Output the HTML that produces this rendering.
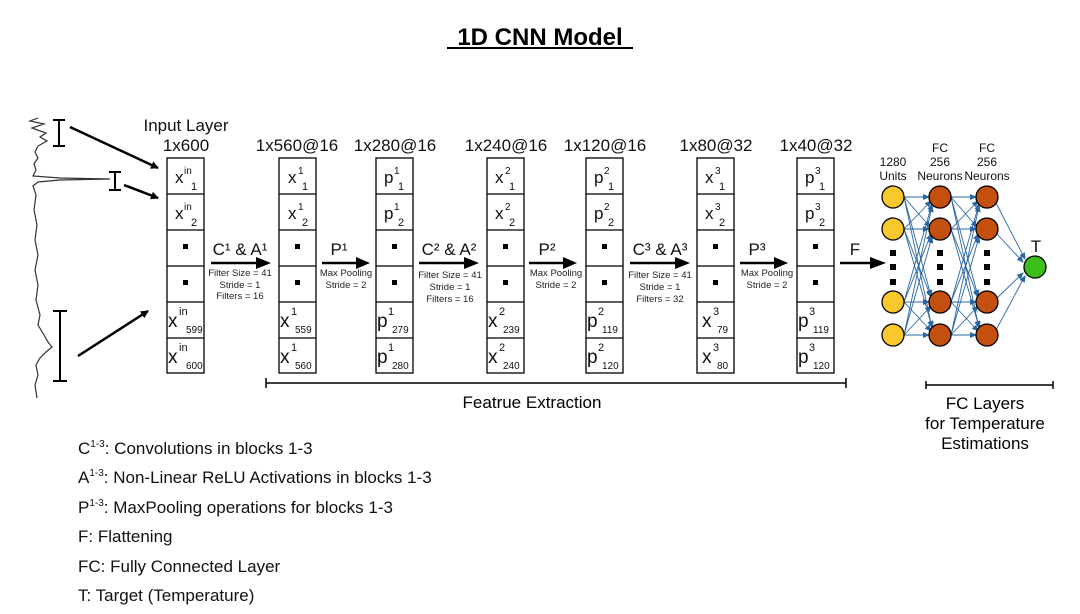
<!DOCTYPE html>
<html><head><meta charset="utf-8"><style>
html,body{margin:0;padding:0;background:#fff}
svg{display:block;font-family:"Liberation Sans",sans-serif}
</style></head><body>
<svg width="1080" height="614" viewBox="0 0 1080 614" xmlns="http://www.w3.org/2000/svg">
<defs>
<marker id="ah" markerWidth="8" markerHeight="8" refX="7" refY="4" orient="auto" markerUnits="userSpaceOnUse"><path d="M0,0 L8,4 L0,8 z" fill="#000"/></marker>
<marker id="bh" markerWidth="7" markerHeight="6" refX="6" refY="3" orient="auto" markerUnits="userSpaceOnUse"><path d="M0,0 L7,3 L0,6 z" fill="#2a66a3"/></marker>
</defs>
<rect width="1080" height="614" fill="#fff"/>
<text x="540" y="45" font-size="24" font-weight="bold" text-anchor="middle">1D CNN Model</text>
<line x1="447" y1="48" x2="633" y2="48" stroke="#000" stroke-width="2"/>

<!-- spectrum -->
<path d="M38,118 L30,121 L44,124 L32,128 L46,133 L40,137 L47,141 L38,146 L35,152 L38,158 L34,164 L36,170 L33,176 L60,178 L110,179 L60,180 L38,182 L33,186 L36,195 L34,210 L37,225 L35,240 L38,255 L35,270 L38,285 L36,300 L40,315 L38,325 L44,335 L48,342 L52,347 L46,352 L40,358 L36,365 L38,375 L35,385 L37,398" fill="none" stroke="#333" stroke-width="1.2"/>
<!-- brackets -->
<g stroke="#000" stroke-width="2">
<line x1="59" y1="120" x2="59" y2="146"/><line x1="53" y1="120" x2="65" y2="120"/><line x1="53" y1="146" x2="65" y2="146"/>
<line x1="115" y1="172" x2="115" y2="190"/><line x1="109" y1="172" x2="121" y2="172"/><line x1="109" y1="190" x2="121" y2="190"/>
<line x1="60" y1="311" x2="60" y2="381"/><line x1="53" y1="311" x2="67" y2="311"/><line x1="53" y1="381" x2="67" y2="381"/>
</g>
<g stroke="#000" stroke-width="2.5" marker-end="url(#ah)">
<line x1="70" y1="127" x2="158" y2="168"/>
<line x1="124" y1="185" x2="158" y2="198"/>
<line x1="78" y1="356" x2="148" y2="311"/>
</g>

<!-- headers -->
<g font-size="17" text-anchor="middle" fill="#111">
<text x="186" y="131">Input Layer</text>
<text x="186" y="151">1x600</text>
<text x="297" y="151">1x560@16</text>
<text x="395" y="151">1x280@16</text>
<text x="506" y="151">1x240@16</text>
<text x="605" y="151">1x120@16</text>
<text x="716" y="151">1x80@32</text>
<text x="816" y="151">1x40@32</text>
</g>

<!-- columns -->
<g fill="none" stroke="#000" stroke-width="1.3">
<rect x="167" y="158" width="37" height="215"/><rect x="279" y="158" width="37" height="215"/><rect x="376" y="158" width="37" height="215"/><rect x="487" y="158" width="37" height="215"/><rect x="586" y="158" width="37" height="215"/><rect x="697" y="158" width="37" height="215"/><rect x="797" y="158" width="37" height="215"/>
<path d="M167,194h37M167,230h37M167,266h37M167,302h37M167,338h37
M279,194h37M279,230h37M279,266h37M279,302h37M279,338h37
M376,194h37M376,230h37M376,266h37M376,302h37M376,338h37
M487,194h37M487,230h37M487,266h37M487,302h37M487,338h37
M586,194h37M586,230h37M586,266h37M586,302h37M586,338h37
M697,194h37M697,230h37M697,266h37M697,302h37M697,338h37
M797,194h37M797,230h37M797,266h37M797,302h37M797,338h37"/>
</g>
<g fill="#000">
<rect x="183" y="244" width="5" height="5"/><rect x="183" y="280" width="5" height="5"/>
<rect x="295" y="244" width="5" height="5"/><rect x="295" y="280" width="5" height="5"/>
<rect x="392" y="244" width="5" height="5"/><rect x="392" y="280" width="5" height="5"/>
<rect x="503" y="244" width="5" height="5"/><rect x="503" y="280" width="5" height="5"/>
<rect x="602" y="244" width="5" height="5"/><rect x="602" y="280" width="5" height="5"/>
<rect x="713" y="244" width="5" height="5"/><rect x="713" y="280" width="5" height="5"/>
<rect x="813" y="244" width="5" height="5"/><rect x="813" y="280" width="5" height="5"/>
</g>
<g fill="#111">
<text x="175" y="183" font-size="17">x</text><text x="184" y="174" font-size="10">in</text><text x="191" y="190" font-size="11">1</text>
<text x="175" y="219" font-size="17">x</text><text x="184" y="210" font-size="10">in</text><text x="191" y="226" font-size="11">2</text>
<text x="168" y="327" font-size="19">x</text><text x="179" y="315" font-size="11">in</text><text x="186" y="333" font-size="10">599</text>
<text x="168" y="363" font-size="19">x</text><text x="179" y="351" font-size="11">in</text><text x="186" y="369" font-size="10">600</text>
<text x="288" y="183" font-size="17">x</text><text x="298" y="174" font-size="10">1</text><text x="302" y="190" font-size="11">1</text>
<text x="288" y="219" font-size="17">x</text><text x="298" y="210" font-size="10">1</text><text x="302" y="226" font-size="11">2</text>
<text x="280" y="327" font-size="19">x</text><text x="291" y="315" font-size="11">1</text><text x="295" y="333" font-size="10">559</text>
<text x="280" y="363" font-size="19">x</text><text x="291" y="351" font-size="11">1</text><text x="295" y="369" font-size="10">560</text>
<text x="384" y="183" font-size="17">p</text><text x="394" y="174" font-size="10">1</text><text x="398" y="190" font-size="11">1</text>
<text x="384" y="219" font-size="17">p</text><text x="394" y="210" font-size="10">1</text><text x="398" y="226" font-size="11">2</text>
<text x="377" y="327" font-size="19">p</text><text x="388" y="315" font-size="11">1</text><text x="392" y="333" font-size="10">279</text>
<text x="377" y="363" font-size="19">p</text><text x="388" y="351" font-size="11">1</text><text x="392" y="369" font-size="10">280</text>
<text x="495" y="183" font-size="17">x</text><text x="505" y="174" font-size="10">2</text><text x="509" y="190" font-size="11">1</text>
<text x="495" y="219" font-size="17">x</text><text x="505" y="210" font-size="10">2</text><text x="509" y="226" font-size="11">2</text>
<text x="488" y="327" font-size="19">x</text><text x="499" y="315" font-size="11">2</text><text x="503" y="333" font-size="10">239</text>
<text x="488" y="363" font-size="19">x</text><text x="499" y="351" font-size="11">2</text><text x="503" y="369" font-size="10">240</text>
<text x="594" y="183" font-size="17">p</text><text x="604" y="174" font-size="10">2</text><text x="608" y="190" font-size="11">1</text>
<text x="594" y="219" font-size="17">p</text><text x="604" y="210" font-size="10">2</text><text x="608" y="226" font-size="11">2</text>
<text x="587" y="327" font-size="19">p</text><text x="598" y="315" font-size="11">2</text><text x="602" y="333" font-size="10">119</text>
<text x="587" y="363" font-size="19">p</text><text x="598" y="351" font-size="11">2</text><text x="602" y="369" font-size="10">120</text>
<text x="705" y="183" font-size="17">x</text><text x="715" y="174" font-size="10">3</text><text x="719" y="190" font-size="11">1</text>
<text x="705" y="219" font-size="17">x</text><text x="715" y="210" font-size="10">3</text><text x="719" y="226" font-size="11">2</text>
<text x="702" y="327" font-size="19">x</text><text x="713" y="315" font-size="11">3</text><text x="717" y="333" font-size="10">79</text>
<text x="702" y="363" font-size="19">x</text><text x="713" y="351" font-size="11">3</text><text x="717" y="369" font-size="10">80</text>
<text x="805" y="183" font-size="17">p</text><text x="815" y="174" font-size="10">3</text><text x="819" y="190" font-size="11">1</text>
<text x="805" y="219" font-size="17">p</text><text x="815" y="210" font-size="10">3</text><text x="819" y="226" font-size="11">2</text>
<text x="798" y="327" font-size="19">p</text><text x="809" y="315" font-size="11">3</text><text x="813" y="333" font-size="10">119</text>
<text x="798" y="363" font-size="19">p</text><text x="809" y="351" font-size="11">3</text><text x="813" y="369" font-size="10">120</text>
</g>

<g stroke="#000" stroke-width="2.5">
<line x1="211" y1="263" x2="258" y2="263"/><line x1="322" y1="263" x2="358" y2="263"/>
<line x1="419" y1="263" x2="466" y2="263"/><line x1="529" y1="263" x2="565" y2="263"/>
<line x1="630" y1="263" x2="677" y2="263"/><line x1="740" y1="263" x2="776" y2="263"/>
<line x1="840" y1="263" x2="872" y2="263"/>
</g>
<g fill="#000">
<path d="M256,257 L271,263 L256,269z"/><path d="M356,257 L370,263 L356,269z"/>
<path d="M464,257 L479,263 L464,269z"/><path d="M563,257 L577,263 L563,269z"/>
<path d="M675,257 L690,263 L675,269z"/><path d="M774,257 L788,263 L774,269z"/>
<path d="M870,257 L886,263 L870,269z"/>
</g>
<g font-size="17" text-anchor="middle" fill="#111">
<text x="240" y="255">C¹ &amp; A¹</text>
<text x="339" y="255">P¹</text>
<text x="449" y="255">C² &amp; A²</text>
<text x="547" y="255">P²</text>
<text x="660" y="255">C³ &amp; A³</text>
<text x="757" y="255">P³</text>
<text x="855" y="255">F</text>
</g>
<g font-size="9.5" text-anchor="middle" fill="#222">
<text x="240" y="276">Filter Size = 41</text><text x="240" y="288">Stride = 1</text><text x="240" y="299">Filters = 16</text>
<text x="346" y="276">Max Pooling</text><text x="346" y="288">Stride = 2</text>
<text x="450" y="278">Filter Size = 41</text><text x="450" y="290">Stride = 1</text><text x="450" y="302">Filters = 16</text>
<text x="556" y="276">Max Pooling</text><text x="556" y="288">Stride = 2</text>
<text x="660" y="278">Filter Size = 41</text><text x="660" y="290">Stride = 1</text><text x="660" y="302">Filters = 32</text>
<text x="767" y="276">Max Pooling</text><text x="767" y="288">Stride = 2</text>
</g>

<g stroke="#000" stroke-width="1.5">
<line x1="266" y1="383" x2="846" y2="383"/><line x1="266" y1="378" x2="266" y2="388"/><line x1="846" y1="378" x2="846" y2="388"/>
<line x1="926" y1="385" x2="1053" y2="385"/><line x1="926" y1="381" x2="926" y2="389"/><line x1="1053" y1="381" x2="1053" y2="389"/>
</g>
<text x="532" y="408" font-size="17" text-anchor="middle">Featrue Extraction</text>
<g font-size="17" text-anchor="middle">
<text x="985" y="409">FC Layers</text><text x="985" y="429">for Temperature</text><text x="985" y="449">Estimations</text>
</g>

<g font-size="12" text-anchor="middle" fill="#111">
<text x="893" y="166">1280</text><text x="893" y="180">Units</text>
<text x="940" y="152">FC</text><text x="940" y="166">256</text><text x="940" y="180">Neurons</text>
<text x="987" y="152">FC</text><text x="987" y="166">256</text><text x="987" y="180">Neurons</text>
<text x="1036" y="252" font-size="17">T</text>
</g>
<g stroke="#2a66a3" stroke-width="0.9" marker-end="url(#bh)">
<line x1="904" y1="197" x2="929" y2="197"/><line x1="904" y1="197" x2="930" y2="227"/><line x1="904" y1="197" x2="931" y2="296"/><line x1="904" y1="197" x2="932" y2="328"/>
<line x1="904" y1="229" x2="931" y2="201"/><line x1="904" y1="229" x2="929" y2="229"/><line x1="904" y1="229" x2="931" y2="297"/><line x1="904" y1="229" x2="932" y2="327"/>
<line x1="904" y1="302" x2="932" y2="204"/><line x1="904" y1="302" x2="931" y2="234"/><line x1="904" y1="302" x2="929" y2="302"/><line x1="904" y1="302" x2="931" y2="331"/>
<line x1="904" y1="335" x2="932" y2="206"/><line x1="904" y1="335" x2="932" y2="237"/><line x1="904" y1="335" x2="931" y2="306"/><line x1="904" y1="335" x2="929" y2="335"/>
<line x1="951" y1="197" x2="976" y2="197"/><line x1="951" y1="197" x2="977" y2="227"/><line x1="951" y1="197" x2="978" y2="296"/><line x1="951" y1="197" x2="979" y2="328"/>
<line x1="951" y1="229" x2="978" y2="201"/><line x1="951" y1="229" x2="976" y2="229"/><line x1="951" y1="229" x2="978" y2="297"/><line x1="951" y1="229" x2="979" y2="327"/>
<line x1="951" y1="302" x2="979" y2="204"/><line x1="951" y1="302" x2="978" y2="234"/><line x1="951" y1="302" x2="976" y2="302"/><line x1="951" y1="302" x2="978" y2="331"/>
<line x1="951" y1="335" x2="979" y2="206"/><line x1="951" y1="335" x2="979" y2="237"/><line x1="951" y1="335" x2="978" y2="306"/><line x1="951" y1="335" x2="976" y2="335"/>
<line x1="996" y1="203" x2="1025" y2="259"/><line x1="997" y1="234" x2="1023" y2="262"/><line x1="997" y1="298" x2="1023" y2="273"/><line x1="996" y1="330" x2="1025" y2="276"/>
</g>
<g stroke="#000" stroke-width="1.3">
<circle cx="893" cy="197" r="11" fill="#f8c82c"/><circle cx="893" cy="229" r="11" fill="#f8c82c"/><circle cx="893" cy="302" r="11" fill="#f8c82c"/><circle cx="893" cy="335" r="11" fill="#f8c82c"/>
<circle cx="940" cy="197" r="11" fill="#c4500f"/><circle cx="940" cy="229" r="11" fill="#c4500f"/><circle cx="940" cy="302" r="11" fill="#c4500f"/><circle cx="940" cy="335" r="11" fill="#c4500f"/>
<circle cx="987" cy="197" r="11" fill="#c4500f"/><circle cx="987" cy="229" r="11" fill="#c4500f"/><circle cx="987" cy="302" r="11" fill="#c4500f"/><circle cx="987" cy="335" r="11" fill="#c4500f"/>
<circle cx="1035" cy="267" r="11" fill="#3cbf1a"/>
</g>
<g fill="#000">
<rect x="890" y="250" width="6" height="6"/><rect x="890" y="264" width="6" height="6"/><rect x="890" y="279" width="6" height="6"/>
<rect x="937" y="250" width="6" height="6"/><rect x="937" y="264" width="6" height="6"/><rect x="937" y="279" width="6" height="6"/>
<rect x="984" y="250" width="6" height="6"/><rect x="984" y="264" width="6" height="6"/><rect x="984" y="279" width="6" height="6"/>
</g>

<g font-size="17" fill="#111">
<text x="78" y="454">C<tspan font-size="10" dy="-7">1-3</tspan><tspan dy="7">: Convolutions in blocks 1-3</tspan></text>
<text x="78" y="483">A<tspan font-size="10" dy="-7">1-3</tspan><tspan dy="7">: Non-Linear ReLU Activations in blocks 1-3</tspan></text>
<text x="78" y="513">P<tspan font-size="10" dy="-7">1-3</tspan><tspan dy="7">: MaxPooling operations for blocks 1-3</tspan></text>
<text x="78" y="542">F: Flattening</text>
<text x="78" y="572">FC: Fully Connected Layer</text>
<text x="78" y="601">T: Target (Temperature)</text>
</g>
</svg>
</body></html>
